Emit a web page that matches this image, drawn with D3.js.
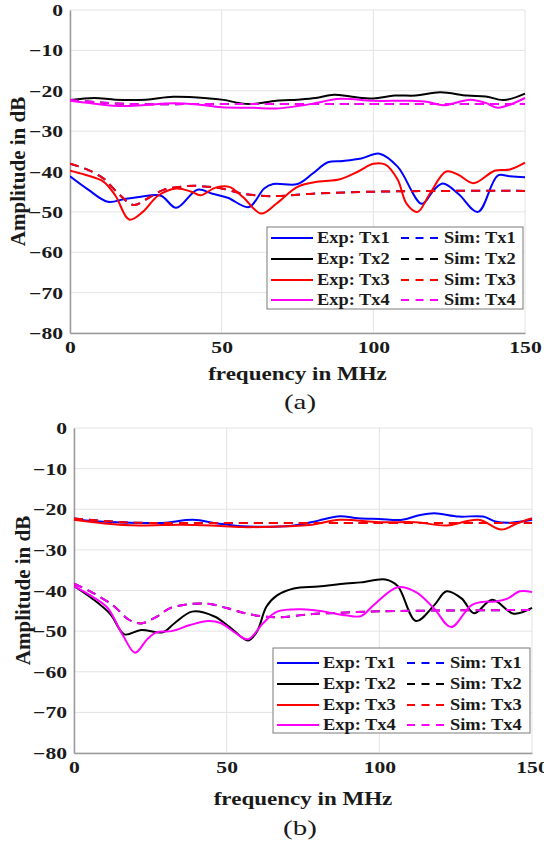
<!DOCTYPE html>
<html><head><meta charset="utf-8">
<script src="https://cdn.jsdelivr.net/npm/d3@7"></script>
<style>body{margin:0;background:#fff}svg{display:block}</style>
</head><body>
<svg id="c" width="544" height="847"></svg>
<script>
// ---------- DATA ----------
const xTicks = [0, 50, 100, 150];
const yTicks = [0, -10, -20, -30, -40, -50, -60, -70, -80];
const seriesNames = ["Tx1", "Tx2", "Tx3", "Tx4"];
const seriesColors = ["#0000ff", "#000000", "#ff0000", "#ff00ff"];
const panelLabels = ["(a)", "(b)"];
const xLabel = "frequency in MHz";
const yLabel = "Amplitude in dB";

// Panel (a)
const aExpTx1_f  = [0, 6, 12.5, 18, 23, 30, 35, 42, 47, 52, 59, 64, 67, 75, 80, 85, 90, 96, 102, 108, 116, 120, 123, 128, 134.5, 141, 145, 150];
const aExpTx1_db = [-41.2, -44.5, -47.5, -46.8, -46.3, -46.0, -49, -44.5, -45.5, -46.5, -48.8, -44.2, -43.1, -43.1, -40.5, -37.7, -37.4, -36.8, -35.6, -38.8, -48, -44.5, -43, -45.5, -50, -41, -41.2, -41.4];
const aSimTx1_f  = [0, 5, 11, 16, 21, 26, 31, 36.5, 41, 45.6, 50, 57, 66, 80, 100, 125, 150];
const aSimTx1_db = [-38.1, -39.3, -41.7, -45.5, -48.3, -46.5, -44.5, -43.8, -43.5, -43.8, -44.2, -45.5, -46.1, -45.5, -45.0, -44.8, -44.8];
const aExpTx2_f  = [0, 8, 15, 25, 34, 46, 50, 59, 68, 75, 81, 87, 93, 100, 107, 114, 122, 131, 137, 143, 150];
const aExpTx2_db = [-22.3, -21.8, -22.2, -22.2, -21.5, -21.9, -22.2, -23.3, -22.5, -22.2, -21.8, -21.0, -21.5, -21.9, -21.2, -21.2, -20.4, -21.2, -21.4, -22.3, -20.7];
const aSimTx2_f  = [0, 10, 20, 40, 60, 80, 100, 125, 150];
const aSimTx2_db = [-22.3, -22.9, -23.3, -23.3, -23.3, -23.3, -23.3, -23.3, -23.3];
const aExpTx3_f  = [0, 5, 11, 15, 19.5, 24, 29, 35, 40, 43, 48, 52.5, 57, 63, 68, 75, 82, 89, 95, 100, 104, 108, 111, 114.6, 118.6, 124, 128, 133, 140, 145, 150];
const aExpTx3_db = [-39.8, -40.8, -42.5, -46, -51.9, -50, -46, -44.2, -45, -45.9, -44, -43.8, -46.3, -50.4, -48, -43.8, -42.5, -41.9, -40, -38.1, -38.3, -42, -48, -50, -45.5, -40, -40.8, -42.9, -39.8, -39.5, -37.8];
const aSimTx3_f  = [0, 5, 11, 16, 21, 26, 31, 36.5, 41, 45.6, 50, 57, 66, 80, 100, 125, 150];
const aSimTx3_db = [-38.1, -39.3, -41.7, -45.5, -48.3, -46.5, -44.5, -43.8, -43.5, -43.8, -44.2, -45.5, -46.1, -45.5, -45.0, -44.8, -44.8];
const aExpTx4_f  = [0, 8, 17, 25, 34, 42, 50, 60, 68, 75, 80, 89, 100, 112, 118, 123, 132, 137, 141, 150];
const aExpTx4_db = [-22.5, -23.2, -23.8, -23.5, -23.1, -23.4, -24.1, -24.2, -24.4, -23.8, -23.2, -22.0, -22.5, -22.5, -22.8, -23.6, -22.2, -23.0, -24.2, -21.8];
const aSimTx4_f  = [0, 10, 20, 40, 60, 80, 100, 125, 150];
const aSimTx4_db = [-22.3, -22.9, -23.3, -23.3, -23.3, -23.3, -23.3, -23.3, -23.3];

// Panel (b)
const bExpTx1_f  = [0, 10, 21, 30, 39, 47, 55, 65, 72, 80, 87, 93, 100, 107.5, 113, 118, 126, 134, 138, 143, 150];
const bExpTx1_db = [-22.5, -23.1, -23.4, -23.3, -22.6, -23.5, -24.2, -24.3, -24.0, -22.8, -21.7, -22.2, -22.4, -22.6, -21.5, -21.0, -21.8, -21.8, -23.0, -23.3, -22.6];
const bSimTx1_f  = [0, 10, 20, 40, 60, 80, 100, 125, 150];
const bSimTx1_db = [-22.3, -22.9, -23.3, -23.4, -23.4, -23.4, -23.4, -23.4, -23.4];
const bExpTx2_f  = [0, 6, 12, 16.5, 22, 29, 33, 38.7, 46, 51, 57, 60, 63, 66.5, 72, 80, 89, 94, 102, 106, 112, 118, 122, 127, 131, 137, 144, 150];
const bExpTx2_db = [-38.9, -42, -45.9, -50.8, -49.7, -50.3, -48, -45.2, -46.4, -49, -52.3, -50, -44, -41.2, -39.5, -39.0, -38.3, -38.0, -37.3, -38.9, -47.5, -43.6, -40.2, -42, -45.6, -42.3, -45.7, -44.3];
const bSimTx2_f  = [0, 6, 13, 18, 22, 27, 32, 42.7, 50, 55, 60, 66.5, 78, 89, 100.7, 125, 150];
const bSimTx2_db = [-38.3, -40.5, -43.8, -47.2, -48.1, -46.5, -44.2, -43.2, -44.3, -45.4, -46.2, -46.6, -45.8, -45.4, -45.1, -44.9, -44.8];
const bExpTx3_f  = [0, 10, 21, 35, 45, 55, 65, 78, 87, 100, 112, 122, 132.5, 140, 145, 150];
const bExpTx3_db = [-22.6, -23.5, -24.0, -23.8, -24.0, -24.4, -24.3, -23.8, -22.6, -23.2, -23.2, -24.0, -22.6, -25.0, -23.5, -22.2];
const bSimTx3_f  = [0, 10, 20, 40, 60, 80, 100, 125, 150];
const bSimTx3_db = [-22.3, -22.9, -23.3, -23.4, -23.4, -23.4, -23.4, -23.4, -23.4];
const bExpTx4_f  = [0, 6, 11, 16, 20, 24, 27, 32, 38, 44, 48, 53, 57, 62, 66.5, 74.5, 82, 89, 94, 98, 106, 112, 118, 123.5, 130, 134, 138, 142, 146, 150];
const bExpTx4_db = [-38.9, -41.5, -44.3, -51, -55.3, -52, -50.3, -50, -48.5, -47.5, -48, -50.5, -52, -48, -45.2, -44.6, -45.2, -46.1, -46.3, -43.7, -39.2, -40.4, -44.5, -49, -43.7, -42.8, -42.7, -42.0, -40.2, -40.4];
const bSimTx4_f  = [0, 6, 13, 18, 22, 27, 32, 42.7, 50, 55, 60, 66.5, 78, 89, 100.7, 125, 150];
const bSimTx4_db = [-38.3, -40.5, -43.8, -47.2, -48.1, -46.5, -44.2, -43.2, -44.3, -45.4, -46.2, -46.6, -45.8, -45.4, -45.1, -44.9, -44.8];

// ---------- BUILD ----------
const panelsData = [
  { exp: [[aExpTx1_f, aExpTx1_db], [aExpTx2_f, aExpTx2_db], [aExpTx3_f, aExpTx3_db], [aExpTx4_f, aExpTx4_db]],
    sim: [[aSimTx1_f, aSimTx1_db], [aSimTx2_f, aSimTx2_db], [aSimTx3_f, aSimTx3_db], [aSimTx4_f, aSimTx4_db]] },
  { exp: [[bExpTx1_f, bExpTx1_db], [bExpTx2_f, bExpTx2_db], [bExpTx3_f, bExpTx3_db], [bExpTx4_f, bExpTx4_db]],
    sim: [[bSimTx1_f, bSimTx1_db], [bSimTx2_f, bSimTx2_db], [bSimTx3_f, bSimTx3_db], [bSimTx4_f, bSimTx4_db]] }
];
const layout = [
  { x0: 70, x1: 525, y0: 10, y1: 333, ylabX: 25, xlabY: 380, capY: 409,
    leg: { x: 267, y: 227, w: 256, h: 82, rows: [238, 259, 280, 300] } },
  { x0: 74, x1: 532, y0: 428, y1: 753, ylabX: 30, xlabY: 805, capY: 835,
    leg: { x: 273, y: 648, w: 257, h: 85, rows: [663, 684, 705, 725] } }
];

const svg = d3.select("#c");
const FONT = "Liberation Serif";

function stretch(sel, sx) {
  // horizontally stretch text elements to mimic the reference's wide glyphs
  sel.each(function () {
    const t = d3.select(this);
    const x = +t.attr("x") || 0;
    t.attr("x", x / sx).attr("transform", (t.attr("transform") || "") + ` scale(${sx},1)`);
  });
}

panelsData.forEach((pd, pi) => {
  const L = layout[pi];
  const x = d3.scaleLinear().domain([0, 150]).range([L.x0, L.x1]);
  const y = d3.scaleLinear().domain([-80, 0]).range([L.y1, L.y0]);
  const g = svg.append("g");

  // grid
  const grid = g.append("g").attr("stroke", "#e3e3e3").attr("stroke-width", 1);
  xTicks.forEach(v => grid.append("line").attr("x1", x(v)).attr("x2", x(v)).attr("y1", L.y0).attr("y2", L.y1));
  yTicks.forEach(v => grid.append("line").attr("x1", L.x0).attr("x2", L.x1).attr("y1", y(v)).attr("y2", y(v)));

  // axes
  const xa = g.append("g").attr("transform", `translate(0,${L.y1})`)
    .call(d3.axisBottom(x).tickValues(xTicks).tickSize(0).tickPadding(0).tickFormat(d3.format("d")));
  const ya = g.append("g").attr("transform", `translate(${L.x0},0)`)
    .call(d3.axisLeft(y).tickValues(yTicks).tickSize(0).tickPadding(0).tickFormat(d3.format("d")));
  [xa, ya].forEach(a => {
    a.select(".domain").attr("stroke", "#9a9a9a").attr("stroke-width", 1.5);
    a.selectAll("text").attr("font-family", FONT).attr("font-weight", "bold")
      .attr("font-size", 16).attr("fill", "#1a1a1a");
  });
  xa.selectAll("text").attr("dy", null).attr("y", 20);
  ya.selectAll("text").attr("dy", null).attr("x", -7).attr("y", 5.5);
  stretch(xa.selectAll("text"), 1.35);
  stretch(ya.selectAll("text"), 1.35);

  // lines
  const line = d3.line().x(d => x(d[0])).y(d => y(d[1])).curve(d3.curveCatmullRom.alpha(0.5));
  const clipId = "clip" + pi;
  svg.append("clipPath").attr("id", clipId).append("rect")
    .attr("x", L.x0).attr("y", L.y0 - 2).attr("width", L.x1 - L.x0 + 2).attr("height", L.y1 - L.y0 + 2);
  const lg = g.append("g").attr("clip-path", `url(#${clipId})`);
  for (let i = 0; i < 4; i++) {
    const e = pd.exp[i], s = pd.sim[i];
    lg.append("path").datum(e[0].map((f, k) => [f, e[1][k]]))
      .attr("d", line).attr("fill", "none").attr("stroke", seriesColors[i]).attr("stroke-width", 2);
    lg.append("path").datum(s[0].map((f, k) => [f, s[1][k]]))
      .attr("d", line).attr("fill", "none").attr("stroke", seriesColors[i]).attr("stroke-width", 2)
      .attr("stroke-dasharray", "9,6");
  }

  // axis labels
  const xl = g.append("text").text(xLabel).attr("font-family", FONT).attr("font-weight", "bold")
    .attr("font-size", 18).attr("text-anchor", "middle").attr("fill", "#1a1a1a")
    .attr("x", (L.x0 + L.x1) / 2).attr("y", L.xlabY).attr("transform", "");
  stretch(xl, 1.28);
  g.append("text").text(yLabel).attr("font-family", FONT).attr("font-weight", "bold")
    .attr("font-size", 21).attr("text-anchor", "middle").attr("fill", "#1a1a1a")
    .attr("transform", `translate(${L.ylabX},${(L.y0 + L.y1) / 2}) rotate(-90)`);
  const cap = g.append("text").text(panelLabels[pi]).attr("font-family", FONT)
    .attr("font-size", 20).attr("text-anchor", "middle").attr("fill", "#1a1a1a")
    .attr("x", 300).attr("y", L.capY).attr("transform", "");
  stretch(cap, 1.45);

  // legend
  const lgd = L.leg;
  const lgG = g.append("g");
  lgG.append("rect").attr("x", lgd.x).attr("y", lgd.y).attr("width", lgd.w).attr("height", lgd.h)
    .attr("fill", "#fff").attr("stroke", "#7a7a7a").attr("stroke-width", 1);
  seriesNames.forEach((n, i) => {
    const ry = lgd.rows[i];
    lgG.append("line").attr("x1", lgd.x + 4).attr("x2", lgd.x + 46).attr("y1", ry).attr("y2", ry)
      .attr("stroke", seriesColors[i]).attr("stroke-width", 2);
    lgG.append("line").attr("x1", lgd.x + 134).attr("x2", lgd.x + 175).attr("y1", ry).attr("y2", ry)
      .attr("stroke", seriesColors[i]).attr("stroke-width", 2).attr("stroke-dasharray", "8,6.5");
    const t1 = lgG.append("text").text("Exp: " + n).attr("x", lgd.x + 50).attr("y", ry + 5.5)
      .attr("font-family", FONT).attr("font-weight", "bold").attr("font-size", 16).attr("fill", "#1a1a1a").attr("transform", "");
    const t2 = lgG.append("text").text("Sim: " + n).attr("x", lgd.x + 177).attr("y", ry + 5.5)
      .attr("font-family", FONT).attr("font-weight", "bold").attr("font-size", 16).attr("fill", "#1a1a1a").attr("transform", "");
    stretch(t1, 1.15); stretch(t2, 1.15);
  });
});
</script>
</body></html>
